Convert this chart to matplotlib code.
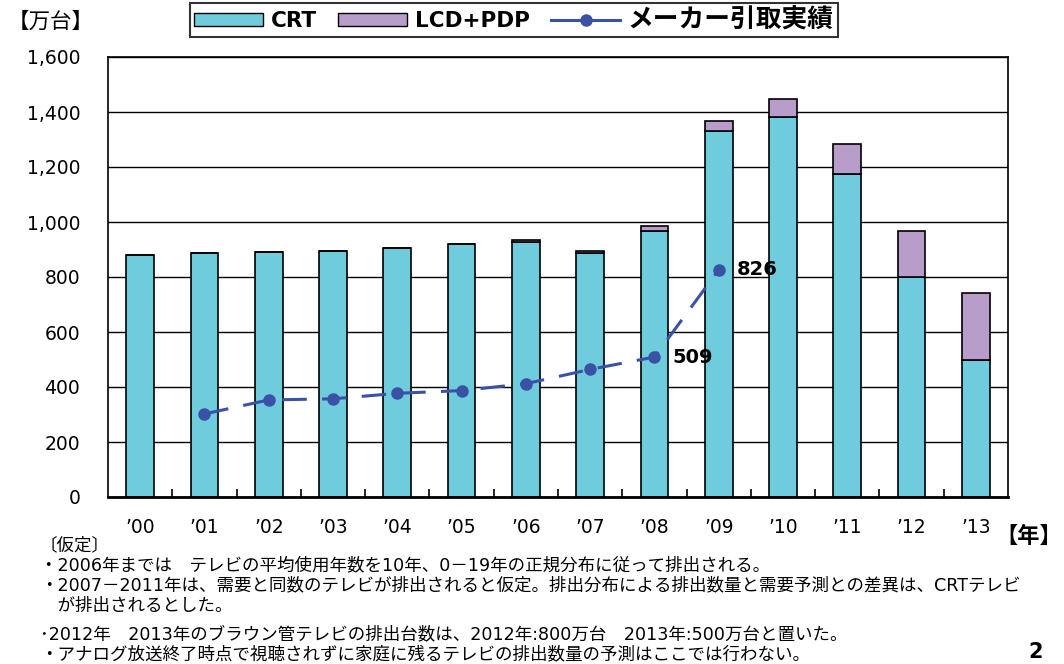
import matplotlib
matplotlib.use("Agg")
import matplotlib.pyplot as plt
from matplotlib.patches import Patch
from matplotlib.lines import Line2D
import numpy as np

plt.rcParams['font.family'] = ['DejaVu Sans', 'Noto Sans CJK JP']

years = ["\u201900", "\u201901", "\u201902", "\u201903", "\u201904", "\u201905", "\u201906",
         "\u201907", "\u201908", "\u201909", "\u201910", "\u201911", "\u201912", "\u201913"]
crt = [880, 887, 891, 895, 905, 920, 928, 886, 967, 1330, 1381, 1175, 800, 500]
lcd_pdp = [0, 0, 0, 0, 0, 0, 5, 9, 19, 38, 65, 107, 167, 242]
takeback_years = ["\u201901", "\u201902", "\u201903", "\u201904", "\u201905", "\u201906",
                  "\u201907", "\u201908", "\u201909"]
takeback = [302, 353, 357, 377, 387, 412, 464, 509, 826]
labelled = {"\u201908": 509, "\u201909": 826}

crt_color = "#6FCCDC"
lcd_color = "#B89CC9"
line_color = "#3A52A6"

fig = plt.figure(figsize=(10.64, 6.64), dpi=100)
ax = fig.add_axes([108 / 1064, 1 - 497 / 664, 900 / 1064, 440 / 664])

x = np.arange(len(years))
ax.bar(x, crt, width=0.43, color=crt_color, edgecolor="black", linewidth=1.2, zorder=2)
ax.bar(x, lcd_pdp, width=0.43, bottom=crt, color=lcd_color, edgecolor="black",
       linewidth=1.2, zorder=2)

tx = [years.index(y) for y in takeback_years]
ax.plot(tx, takeback, color=line_color, linestyle=(0, (8, 5)), linewidth=2.2,
        marker="o", markersize=8, zorder=3)
for yr, v in labelled.items():
    ax.text(years.index(yr) + 0.28, v, f"{v}", fontsize=14, fontweight="bold",
            va="center", ha="left", zorder=4)

ax.set_xlim(-0.5, len(years) - 0.5)
ax.set_ylim(0, 1600)
ax.set_yticks(range(0, 1601, 200))
ax.set_yticklabels([f"{v:,}" for v in range(0, 1601, 200)], fontsize=13.5)
ax.set_xticks(x)
ax.set_xticklabels(years, fontsize=13.5)
ax.set_xticks(np.arange(0.5, len(years) - 1, 1), minor=True)
ax.tick_params(axis="x", which="major", length=0, pad=15)
ax.tick_params(axis="x", which="minor", direction="in", length=6, width=1.2, color="black")
ax.tick_params(axis="y", length=0, pad=20)
ax.grid(axis="y", color="black", linewidth=1.0, zorder=0)
ax.set_axisbelow(True)
for s in ax.spines.values():
    s.set_color("black")
    s.set_linewidth(1.2)
ax.spines["bottom"].set_linewidth(2.0)

fig.text(8 / 1064, 1 - 22 / 664, "【万台】", fontsize=15.5, va="center", ha="left",
         family=['Noto Sans CJK JP'])
fig.text(1062 / 1064, 1 - 536 / 664, "【年】", fontsize=16, va="center", ha="right",
         family=['Noto Sans CJK JP'], fontweight="bold")

handles = [
    Patch(facecolor=crt_color, edgecolor="black", linewidth=1.0),
    Patch(facecolor=lcd_color, edgecolor="black", linewidth=1.0),
    Line2D([0], [0], color=line_color, linewidth=2.2, marker="o", markersize=8),
]
leg = fig.legend(handles, ["CRT", "LCD+PDP", "メーカー引取実績"], loc="center",
                 bbox_to_anchor=(514 / 1064, 1 - 20 / 664), ncol=3, frameon=True,
                 fancybox=False, edgecolor="black", handlelength=3.2, handleheight=0.55,
                 columnspacing=1.0, handletextpad=0.35, borderpad=0.2, borderaxespad=0,
                 prop={'family': ['DejaVu Sans', 'Noto Sans CJK JP'],
                       'weight': 'bold', 'size': 15.5})
leg.get_frame().set_linewidth(1.5)
leg.get_texts()[2].set_fontsize(18.5)

notes = [
    (40, 545, "〔仮定〕"),
    (40, 565, "・2006年までは　テレビの平均使用年数を10年、0－19年の正規分布に従って排出される。"),
    (40, 585, "・2007－2011年は、需要と同数のテレビが排出されると仮定。排出分布による排出数量と需要予測との差異は、CRTテレビ"),
    (40, 606, "　が排出されるとした。"),
    (40, 634, "･2012年　2013年のブラウン管テレビの排出台数は、2012年:800万台　2013年:500万台と置いた。"),
    (40, 654, "・アナログ放送終了時点で視聴されずに家庭に残るテレビの排出数量の予測はここでは行わない。"),
]
for nx, ny, t in notes:
    fig.text(nx / 1064, 1 - ny / 664, t, fontsize=12.6, va="center", ha="left",
             family=['DejaVu Sans', 'Noto Sans CJK JP'])

fig.text(1036 / 1064, 1 - 652 / 664, "2", fontsize=15, fontweight="bold",
         va="center", ha="center")

fig.savefig("out.png", dpi=100)
